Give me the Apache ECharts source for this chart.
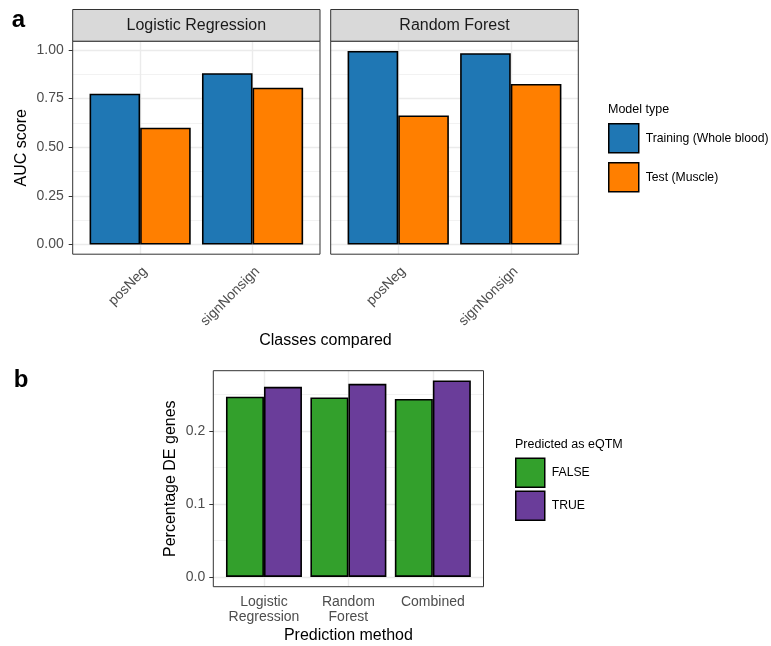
<!DOCTYPE html>
<html><head><meta charset="utf-8">
<script src="https://cdn.jsdelivr.net/npm/echarts@6/dist/echarts.min.js"></script>
<style>html,body{margin:0;padding:0;background:#fff}#c{width:771px;height:646px}</style>
</head><body><div id="c"></div>
<script>
// ---- data ----
const facets = ['Logistic Regression', 'Random Forest'];
const classes = ['posNeg', 'signNonsign'];
const trainingLR = [0.775, 0.880];
const testLR = [0.600, 0.806];
const trainingRF = [0.995, 0.983];
const testRF = [0.663, 0.825];
const modelTypes = ['Training (Whole blood)', 'Test (Muscle)'];
const aucTicks = [0, 0.25, 0.5, 0.75, 1];

const methods = ['Logistic\nRegression', 'Random\nForest', 'Combined'];
const eqtmGroups = ['FALSE', 'TRUE'];
const eqtmFalse = [0.247, 0.246, 0.244];
const eqtmTrue = [0.2605, 0.2646, 0.2692];
const pctTicks = [0, 0.1, 0.2];

// ---- style / layout ----
const FONT = "'Liberation Sans', Arial, sans-serif";
const colA = ['#1F77B4', '#FF7F00'];
const colB = ['#33A02C', '#6A3D9A'];
const GRID_MAJ = '#ebebeb', GRID_MIN = '#f2f2f2';
const TICK_COL = '#333333', LAB_COL = '#4d4d4d';

const panelA = [{x0: 72.7, x1: 320}, {x0: 330.7, x1: 578.3}];
const aY0 = 41.2, aY1 = 254.2, stripTop = 9.5;
const panelB = {x0: 213.3, x1: 483.5, y0: 370.7, y1: 586.7};

const maxA = Math.max(...trainingLR, ...testLR, ...trainingRF, ...testRF);
const loA = -0.05 * maxA, hiA = 1.05 * maxA;
const scA = (aY1 - aY0) / (hiA - loA);
const maxB = Math.max(...eqtmFalse, ...eqtmTrue);
const loB = -0.05 * maxB, hiB = 1.05 * maxB;
const scB = (panelB.y1 - panelB.y0) / (hiB - loB);

const grids = [], xAxes = [], yAxes = [], series = [], graphics = [];

function addTickGrid(x0, x1, top, height, min, max, interval, ticks, showLabels, fmt, margin) {
  const i = grids.length;
  grids.push({left: x0, top: top, width: x1 - x0, height: height, containLabel: false});
  xAxes.push({type: 'value', gridIndex: i, show: false, min: 0, max: 1});
  yAxes.push({
    type: 'value', gridIndex: i, min: min, max: max, interval: interval,
    axisLine: {show: false},
    axisTick: {show: showLabels, length: 4, lineStyle: {color: TICK_COL, width: 1}, customValues: ticks},
    axisLabel: {show: showLabels, customValues: ticks, fontSize: 14, color: LAB_COL, fontFamily: FONT,
      margin: margin, formatter: v => v.toFixed(fmt)},
    splitLine: {show: true, lineStyle: {color: GRID_MAJ, width: 1.4}},
    minorTick: {show: false, splitNumber: 2},
    minorSplitLine: {show: true, lineStyle: {color: GRID_MIN, width: 1}}
  });
  return i;
}

function addBarGrid(x0, x1, y0, y1, cats, lo, hi, labelCfg) {
  const n = cats.length;
  const unit = (x1 - x0) / (n + 0.2);
  const i = grids.length;
  grids.push({left: x0 + 0.1 * unit, width: n * unit, top: y0, height: y1 - y0, containLabel: false});
  xAxes.push({
    type: 'category', gridIndex: i, data: cats, boundaryGap: true,
    axisLine: {show: false},
    axisTick: {show: true, alignWithLabel: true, length: 4, lineStyle: {color: TICK_COL, width: 1}},
    axisLabel: Object.assign({interval: 0, fontSize: 14, color: LAB_COL, fontFamily: FONT}, labelCfg)
  });
  yAxes.push({type: 'value', gridIndex: i, min: lo, max: hi, show: false});
  series.push({
    type: 'line', name: '_grid' + i, xAxisIndex: i, yAxisIndex: i, z: 1, silent: true,
    data: cats.map(() => null), showSymbol: false,
    markLine: {silent: true, symbol: 'none', label: {show: false}, animation: false, z: 1,
      lineStyle: {color: GRID_MAJ, width: 1.4, type: 'solid'},
      data: cats.map(c => ({xAxis: c}))}
  });
  return i;
}

function addBars(gi, name, data, color) {
  series.push({
    type: 'bar', name: name, xAxisIndex: gi, yAxisIndex: gi, data: data, z: 3,
    barGap: '0%', barCategoryGap: '10%',
    itemStyle: {color: color, borderColor: '#000', borderWidth: 1.6}
  });
}

// Panel a
const aData = [[trainingLR, testLR], [trainingRF, testRF]];
panelA.forEach((p, k) => {
  addTickGrid(p.x0, p.x1, aY0 + (hiA - 1) * scA, scA, 0, 1, 0.25, aucTicks, k === 0, 2, 9);
  const gi = addBarGrid(p.x0, p.x1, aY0, aY1, classes, loA, hiA, {rotate: 45, margin: 10, verticalAlign: 'top'});
  addBars(gi, modelTypes[0], aData[k][0], colA[0]);
  addBars(gi, modelTypes[1], aData[k][1], colA[1]);
  graphics.push({type: 'rect', z: 100, silent: true,
    shape: {x: p.x0, y: aY0, width: p.x1 - p.x0, height: aY1 - aY0},
    style: {fill: 'none', stroke: '#333', lineWidth: 1}});
  graphics.push({type: 'rect', z: 100, silent: true,
    shape: {x: p.x0, y: stripTop, width: p.x1 - p.x0, height: aY0 - stripTop},
    style: {fill: '#d9d9d9', stroke: '#333', lineWidth: 1}});
  graphics.push({type: 'text', z: 101, silent: true, x: (p.x0 + p.x1) / 2, y: (stripTop + aY0) / 2 + 0.5,
    style: {text: facets[k], fill: '#1a1a1a', font: '16px ' + FONT, textAlign: 'center', textVerticalAlign: 'middle'}});
});

// Panel b
addTickGrid(panelB.x0, panelB.x1, panelB.y0 + (hiB - 0.3) * scB, 0.3 * scB, 0, 0.3, 0.1, pctTicks, true, 1, 8);
const gb = addBarGrid(panelB.x0, panelB.x1, panelB.y0, panelB.y1, methods, loB, hiB, {margin: 8, lineHeight: 15});
addBars(gb, eqtmGroups[0], eqtmFalse, colB[0]);
addBars(gb, eqtmGroups[1], eqtmTrue, colB[1]);
graphics.push({type: 'rect', z: 100, silent: true,
  shape: {x: panelB.x0, y: panelB.y0, width: panelB.x1 - panelB.x0, height: panelB.y1 - panelB.y0},
  style: {fill: 'none', stroke: '#333', lineWidth: 1}});

// Titles and labels
function txt(t, x, y, font, opts) {
  graphics.push(Object.assign({type: 'text', z: 101, silent: true, x: x, y: y,
    style: {text: t, fill: '#000', font: font, textAlign: 'center', textVerticalAlign: 'middle'}}, opts || {}));
}
txt('a', 18.5, 20, 'bold 24px ' + FONT);
txt('b', 21, 380, 'bold 24px ' + FONT);
txt('AUC score', 21.5, (aY0 + aY1) / 2, '16px ' + FONT, {rotation: Math.PI / 2});
txt('Classes compared', (panelA[0].x0 + panelA[1].x1) / 2, 341, '16px ' + FONT);
txt('Percentage DE genes', 170.5, (panelB.y0 + panelB.y1) / 2, '16px ' + FONT, {rotation: Math.PI / 2});
txt('Prediction method', (panelB.x0 + panelB.x1) / 2, 636, '16px ' + FONT);
graphics.push({type: 'text', z: 101, silent: true, x: 608, y: 110,
  style: {text: 'Model type', fill: '#000', font: '12.5px ' + FONT, textAlign: 'left', textVerticalAlign: 'middle'}});
graphics.push({type: 'text', z: 101, silent: true, x: 515, y: 445,
  style: {text: 'Predicted as eQTM', fill: '#000', font: '12.5px ' + FONT, textAlign: 'left', textVerticalAlign: 'middle'}});

const legendCommon = {orient: 'vertical', icon: 'rect', selectedMode: false, padding: 0,
  itemStyle: {borderColor: '#000', borderWidth: 1.5},
  textStyle: {fontSize: 12.2, color: '#000', fontFamily: FONT, padding: [0, 0, 0, 2]}};

const chart = echarts.init(document.getElementById('c'), null, {renderer: 'canvas'});
chart.setOption({
  animation: false,
  backgroundColor: '#fff',
  grid: grids, xAxis: xAxes, yAxis: yAxes, series: series,
  legend: [
    Object.assign({}, legendCommon, {data: modelTypes, left: 608, top: 123, itemWidth: 30, itemHeight: 29, itemGap: 8.5}),
    Object.assign({}, legendCommon, {data: eqtmGroups, left: 515, top: 457.5, itemWidth: 29, itemHeight: 29, itemGap: 2.5})
  ],
  graphic: graphics
});
</script></body></html>
